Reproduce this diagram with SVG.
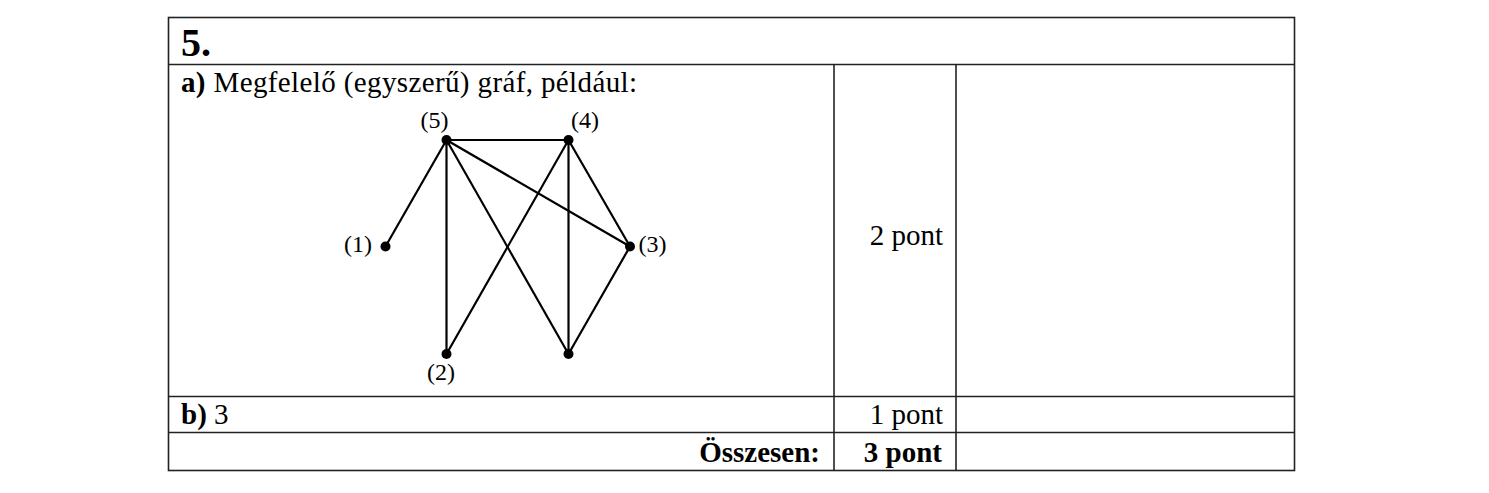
<svg xmlns="http://www.w3.org/2000/svg" width="1489" height="493" viewBox="0 0 1489 493">
<style>
.t{font-family:"Liberation Serif","Times New Roman",serif;font-size:29px;fill:#000}
.b{font-weight:bold}
.lbl{font-family:"Liberation Serif","DejaVu Serif",serif;font-size:24px;fill:#000;text-anchor:middle}
.grid{stroke:#222;stroke-width:1.6;fill:none}
.edge{stroke:#000;stroke-width:2.2}
.dot{fill:#000}
</style>
<rect width="1489" height="493" fill="#fff"/>
<g id="table">
<rect class="grid" x="168.5" y="17.5" width="1126" height="453"/>
<line class="grid" x1="168.5" y1="64.5" x2="1294.5" y2="64.5"/>
<line class="grid" x1="168.5" y1="396.5" x2="1294.5" y2="396.5"/>
<line class="grid" x1="168.5" y1="432.5" x2="1294.5" y2="432.5"/>
<line class="grid" x1="834" y1="64.5" x2="834" y2="470.5"/>
<line class="grid" x1="956" y1="64.5" x2="956" y2="470.5"/>
</g>
<g id="texts">
<text class="t b" x="181" y="56" style="font-size:40px">5.</text>
<text class="t" x="181" y="92" textLength="456" lengthAdjust="spacing"><tspan class="b">a)</tspan> Megfelelő (egyszerű) gráf, például:</text>
<text class="t" x="943" y="245" text-anchor="end">2 pont</text>
<text class="t" x="181" y="424"><tspan class="b">b)</tspan> 3</text>
<text class="t" x="943" y="424" text-anchor="end">1 pont</text>
<text class="t b" x="820" y="462" text-anchor="end">Összesen:</text>
<text class="t b" x="942" y="462" text-anchor="end">3 pont</text>
</g>
<g id="connectors">
<line class="edge" x1="446.5" y1="140" x2="568.5" y2="140"/>
<line class="edge" x1="446.5" y1="140" x2="385.5" y2="246.5"/>
<line class="edge" x1="446.5" y1="140" x2="446.5" y2="354"/>
<line class="edge" x1="446.5" y1="140" x2="568.5" y2="354"/>
<line class="edge" x1="446.5" y1="140" x2="630" y2="246.5"/>
<line class="edge" x1="568.5" y1="140" x2="446.5" y2="354"/>
<line class="edge" x1="568.5" y1="140" x2="568.5" y2="354"/>
<line class="edge" x1="568.5" y1="140" x2="630" y2="246.5"/>
<line class="edge" x1="630" y1="246.5" x2="568.5" y2="354"/>
</g>
<g id="node5"><circle class="dot" cx="446.5" cy="140" r="5"/><text class="lbl" x="434.5" y="128">(5)</text></g>
<g id="node4"><circle class="dot" cx="568.5" cy="140" r="5"/><text class="lbl" x="585" y="128">(4)</text></g>
<g id="node1"><circle class="dot" cx="385.5" cy="246.5" r="5"/><text class="lbl" x="358" y="252">(1)</text></g>
<g id="node3"><circle class="dot" cx="630" cy="246.5" r="5"/><text class="lbl" x="652.5" y="252">(3)</text></g>
<g id="node2"><circle class="dot" cx="446.5" cy="354" r="5"/><text class="lbl" x="441" y="380">(2)</text></g>
<g id="node6"><circle class="dot" cx="568.5" cy="354" r="5"/></g>
</svg>
